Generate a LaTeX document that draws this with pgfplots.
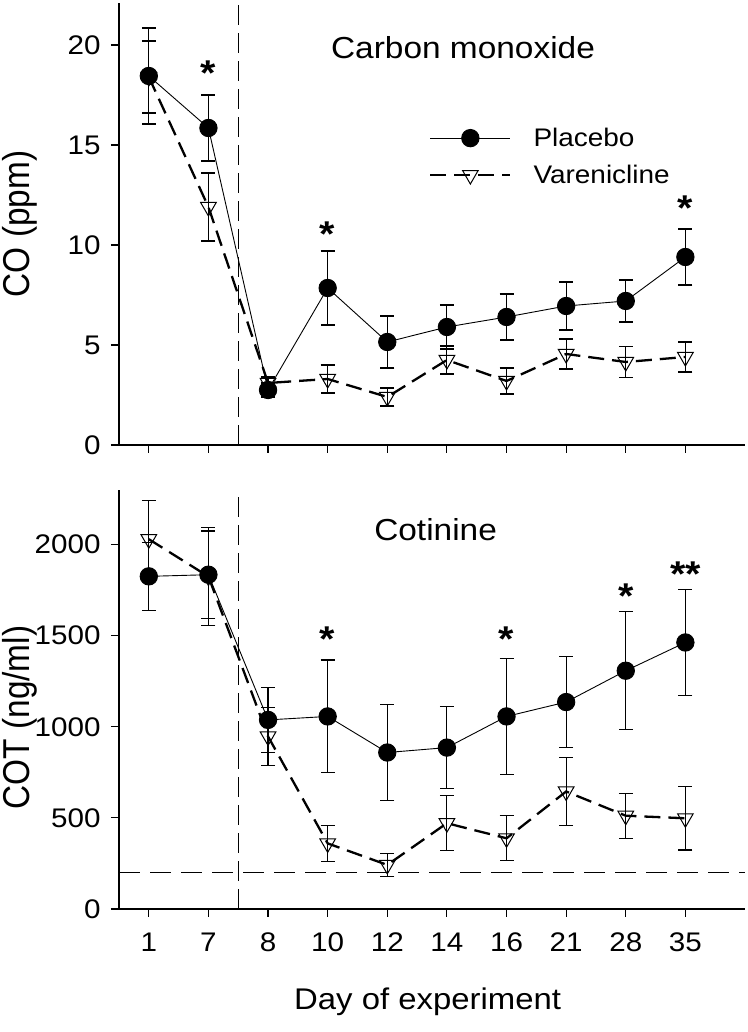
\documentclass[border=0pt]{standalone}
\usepackage{graphicx}
\usepackage{fontspec}
\setmainfont[FakeStretch=1.1]{Liberation Sans}
\newfontfamily\ylabfont{Liberation Sans}
\usepackage{pgfplots}
\usepackage{pgfplotstable}
\pgfplotsset{compat=1.18}

% Carbon monoxide (ppm): x index, mean, error
\pgfplotstableread{
x y e
0 18.45 2.40
1 15.85 1.65
2 2.75 0.35
3 7.85 1.85
4 5.15 1.30
5 5.90 1.10
6 6.40 1.15
7 6.95 1.20
8 7.20 1.05
9 9.40 1.40
}\coP
\pgfplotstableread{
x y e
0 18.40 1.80
1 11.90 1.70
2 3.10 0.30
3 3.30 0.70
4 2.40 0.45
5 4.25 0.70
6 3.20 0.65
7 4.55 0.75
8 4.15 0.78
9 4.40 0.75
}\coV
% Cotinine (ng/ml)
\pgfplotstableread{
x y e
0 1826 187
1 1835 240
2 1038 178
3 1057 310
4 859 263
5 886 225
6 1057 318
7 1136 250
8 1308 325
9 1463 293
}\cotP
\pgfplotstableread{
x y e
0 2030 210
1 1825 270
2 947 160
3 360 100
4 242 64
5 471 150
6 388 124
7 645 187
8 512 124
9 498 174
}\cotV

\pgfplotsset{
  common/.style={
    scale only axis, width=626bp,
    xmin=-0.5, xmax=10,
    axis x line=bottom, axis y line=left,
    axis line style={-, line width=1.1bp},
    every outer x axis line/.append style={-},
    every outer y axis line/.append style={-},
    tick style={line width=1.1bp, black},
    tick align=outside, major tick length=8bp,
    xtick={0,...,9},
    ticklabel style={font=\fontsize{27}{32}\selectfont},
    xticklabel style={yshift=-12bp},
    yticklabel style={xshift=-7bp, /pgf/number format/1000 sep={}},
    /pgf/number format/assume math mode=true,
    ylabel style={font=\ylabfont\fontsize{33.5}{40}\selectfont, anchor=center},
    xlabel style={font=\fontsize{30}{36}\selectfont},
    clip=false,
  },
  plac/.style={black, line width=0.9bp, solid, mark=*, mark size=8.7bp,
    mark options={solid, fill=black},
    error bars/.cd, y dir=both, y explicit,
    error bar style={solid, line width=1.1bp, black},
    error mark options={solid, rotate=90, mark size=7bp, line width=1.1bp, black}},
  vare/.style={black, line width=2.3bp, dash pattern=on 16bp off 8bp, mark=triangle, mark size=9bp,
    mark options={solid, rotate=180, line width=1bp, fill=none},
    error bars/.cd, y dir=both, y explicit,
    error bar style={solid, line width=1.1bp, black},
    error mark options={solid, rotate=90, mark size=7bp, line width=1.1bp, black}},
  legend image code/.code={\draw[mark repeat=2, mark phase=2, #1] plot coordinates {(0bp,0bp) (40bp,0bp) (80bp,0bp)};},
}

\newcommand{\starfont}{\fontsize{36}{40}\selectfont\bfseries}

\begin{document}
\begin{tikzpicture}
\path[use as bounding box] (0,0) rectangle (748bp,1032bp);

% ---------- top panel ----------
\begin{axis}[common, at={(119bp,587bp)}, anchor=south west, height=442bp,
  ymin=0, ymax=22.1, ytick={0,5,10,15,20}, xticklabels={},
  ylabel={\scalebox{1}[1.12]{CO (ppm)}},
  ylabel style={at={(axis description cs:-0.158,0.5)}},
  legend style={draw=none, fill=none, at={(axis cs:4.7,15.95)}, anchor=north west,
    font=\fontsize{25.5}{30}\selectfont, row sep=13bp, inner sep=0pt,
    /tikz/every even column/.append style={column sep=0bp}},
  legend cell align=left,
]
\addplot[forget plot, black, line width=1.2bp, dash pattern=on 20bp off 8bp] coordinates {(1.5,0) (1.5,22.1)};
\addplot[plac] table[x=x, y=y, y error=e] {\coP};
\addlegendentry{\hspace{20bp}Placebo}
\addplot[vare] table[x=x, y=y, y error=e] {\coV};
\addlegendentry{\hspace{20bp}Varenicline}
\node[anchor=base, font=\fontsize{30.5}{36}\selectfont] at (axis cs:5.27,19.3) {Carbon monoxide};
\node[anchor=base, yshift=-17bp, font=\starfont] at (axis cs:1,18.8) {*};
\node[anchor=base, yshift=-17bp, font=\starfont] at (axis cs:3,10.78) {*};
\node[anchor=base, yshift=-17bp, font=\starfont] at (axis cs:9,12.05) {*};
\end{axis}

% ---------- bottom panel ----------
\begin{axis}[common, at={(119bp,123bp)}, anchor=south west, height=419bp,
  ymin=0, ymax=2300, ytick={0,500,1000,1500,2000},
  xticklabels={1,7,8,10,12,14,16,21,28,35},
  xlabel={Day of experiment},
  xlabel style={at={(axis description cs:0.493,-0.241)}, anchor=base},
  ylabel={\scalebox{1}[1.12]{COT (ng/ml)}},
  ylabel style={at={(axis description cs:-0.158,0.457)}},
]
\addplot[forget plot, black, line width=1.2bp, dash pattern=on 20bp off 8bp] coordinates {(1.5,0) (1.5,2300)};
\addplot[forget plot, black, line width=1.1bp, dash pattern=on 21bp off 10bp] coordinates {(-0.5,200) (10,200)};
\addplot[plac] table[x=x, y=y, y error=e] {\cotP};
\addplot[vare] table[x=x, y=y, y error=e] {\cotV};
\node[anchor=base, font=\fontsize{30.5}{36}\selectfont] at (axis cs:4.81,2022) {Cotinine};
\node[anchor=base, yshift=-17bp, font=\starfont] at (axis cs:3,1505) {*};
\node[anchor=base, yshift=-17bp, font=\starfont] at (axis cs:6,1505) {*};
\node[anchor=base, yshift=-17bp, font=\starfont] at (axis cs:8,1744) {*};
\node[anchor=base, yshift=-17bp, font=\starfont] at (axis cs:9,1866) {**};
\end{axis}
\end{tikzpicture}
\end{document}
